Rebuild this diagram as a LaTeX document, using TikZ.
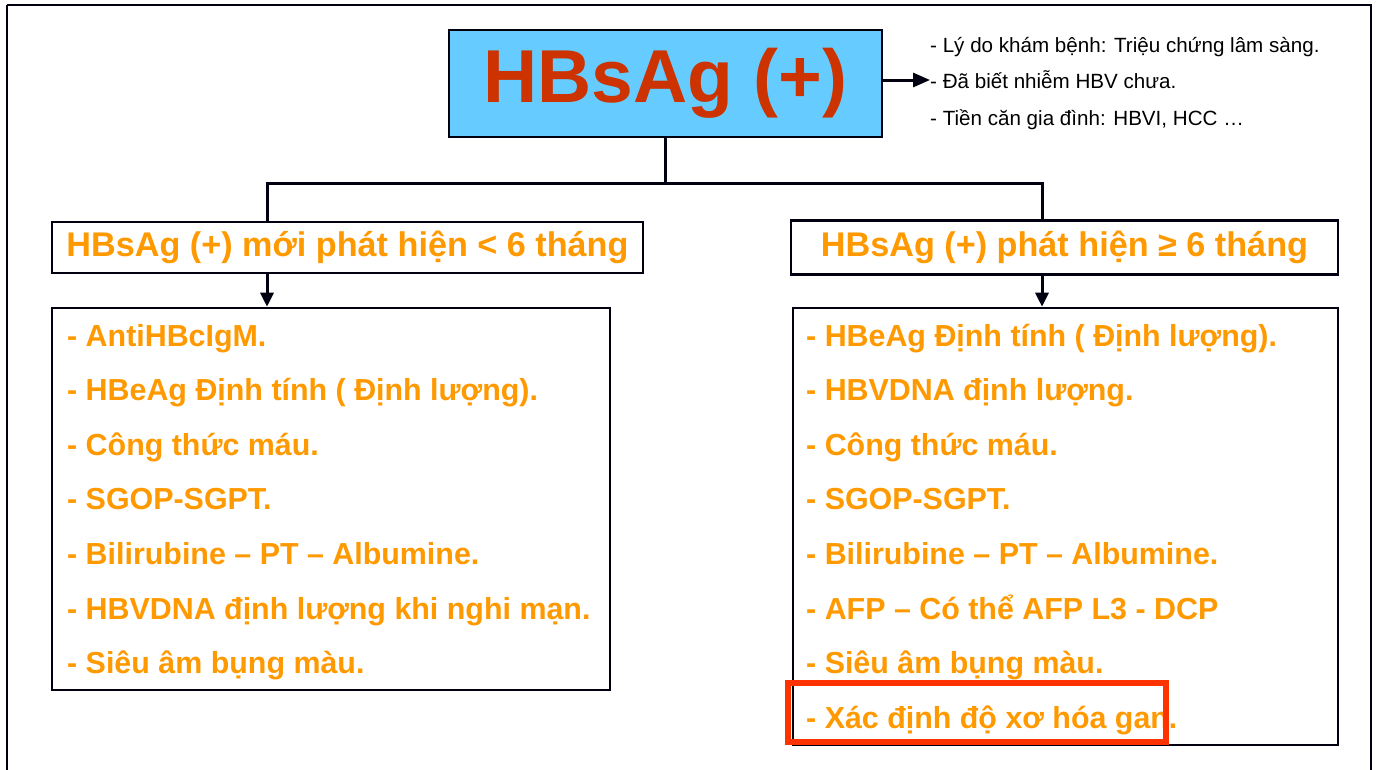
\documentclass[tikz,border=0pt]{standalone}
\usepackage{fontspec}
\setmainfont{Liberation Sans}
\usetikzlibrary{arrows.meta}
\definecolor{skyb}{HTML}{66CCFF}
\definecolor{topred}{HTML}{CC3300}
\definecolor{orng}{HTML}{FF9900}
\definecolor{hlred}{HTML}{FF3300}
\definecolor{ink}{HTML}{000011}
\begin{document}
\begin{tikzpicture}[x=1pt,y=-1pt,
  frame/.style={draw=ink,line width=2.6pt},
  conn/.style={draw=ink,line width=3pt},
  arr/.style={conn,-{Triangle[length=14pt,width=13pt]}},
  headbox/.style={draw=ink,line width=2.6pt,fill=white,inner sep=0pt,font=\bfseries\fontsize{34.2}{38}\selectfont,text=orng},
  listbox/.style={draw=ink,line width=2.6pt,fill=white,inner sep=0pt},
  item/.style={anchor=base west,inner sep=0pt,font=\bfseries\fontsize{30.4}{36}\selectfont,text=orng},
  note/.style={anchor=base west,inner sep=0pt,font=\fontsize{20.6}{24}\selectfont,text=black}]
\useasboundingbox (0,0) rectangle (1377,769);
\fill[white] (0,0) rectangle (1377,769);
% outer frame
\draw[frame] (7,5) -- (1371,5) -- (1371,800) (7,800) -- (7,5);
% top box
\node[draw=ink,line width=2.6pt,fill=skyb,minimum width=433pt,minimum height=107pt,inner sep=0pt,
  font=\bfseries\fontsize{75}{80}\selectfont,text=topred] (top) at (665.5,83.5) {HBsAg (+)};
% notes
\node[note] (n1) at (930,52) {- Lý do khám bệnh: Triệu chứng lâm sàng.};
\node[note] (n2) at (930,88) {- Đã biết nhiễm HBV chưa.};
\node[note] (n3) at (930,125) {- Tiền căn gia đình: HBVI, HCC …};
\coordinate (nt) at (930,80);
\draw[conn,-{Triangle[length=17pt,width=14pt]}] (top.east |- nt) -- (nt);
% headings
\node[headbox,minimum width=591pt,minimum height=51pt] (lh) at (347.5,247.5) {HBsAg (+) mới phát hiện < 6 tháng};
\node[headbox,minimum width=547pt,minimum height=54pt] (rh) at (1064.5,247.5) {HBsAg (+) phát hiện ≥ 6 tháng};
% list boxes
\node[listbox,minimum width=558pt,minimum height=382pt] (ll) at (331,499) {};
\node[listbox,minimum width=545pt,minimum height=437pt] (rl) at (1065.5,526.5) {};
% connectors
\coordinate (jl) at (267,183);
\coordinate (jr) at (1042,183);
\draw[conn] (top.south) -- (top.south |- jl);
\draw[conn,line cap=rect] (jl |- lh.north) -- (jl) -- (jr) -- (jr |- rh.north);
\draw[arr] (jl |- lh.south) -- (jl |- ll.north);
\draw[arr] (jr |- rh.south) -- (jr |- rl.north);
% left items
\foreach \t [count=\i from 0] in {{- AntiHBcIgM.},{- HBeAg Định tính ( Định lượng).},{- Công thức máu.},{- SGOP-SGPT.},{- Bilirubine – PT – Albumine.},{- HBVDNA định lượng khi nghi mạn.},{- Siêu âm bụng màu.}}
  \node[item] (li\i) at (67,{346+54.6*\i}) {\t};
% right items
\foreach \t [count=\i from 0] in {{- HBeAg Định tính ( Định lượng).},{- HBVDNA định lượng.},{- Công thức máu.},{- SGOP-SGPT.},{- Bilirubine – PT – Albumine.},{- AFP – Có thể AFP L3 - DCP},{- Siêu âm bụng màu.},{- Xác định độ xơ hóa gan.}}
  \node[item] (ri\i) at (806,{346+54.6*\i}) {\t};
% highlight
\node[draw=hlred,line width=6pt,minimum width=378pt,minimum height=59pt,inner sep=0pt] (hl) at (976.5,712.5) {};
\end{tikzpicture}
\end{document}
